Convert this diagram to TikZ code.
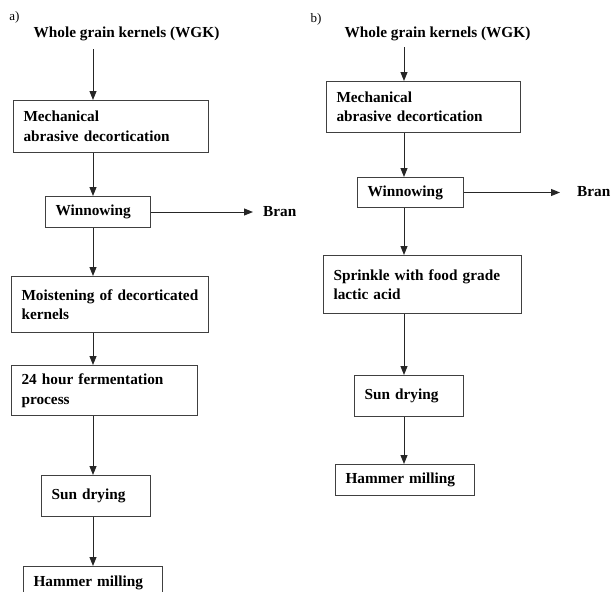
\documentclass[tikz,border=0pt]{standalone}
\usepackage{fontspec}
\setmainfont{Liberation Serif}
\usetikzlibrary{arrows.meta}

\tikzset{
  stepbox/.style={draw=black!75, line width=1pt, align=left, inner xsep=10pt, inner ysep=0pt,
    anchor=north west, font=\bfseries\fontsize{15.3}{19.5}\selectfont},
  headtext/.style={inner sep=0pt, font=\bfseries\fontsize{15.3}{19.5}\selectfont},
  panellabel/.style={inner sep=0pt, font=\fontsize{13}{14}\selectfont},
}

\begin{document}
\begin{tikzpicture}[x=1pt,y=-1pt,>={Triangle[length=9pt,width=7pt]}]
    \useasboundingbox (0,0) rectangle (611,592);

    % a)
    \node[panellabel] (labA) at (14.5,17) {a)};
    \node[headtext] (wgkA) at (126.5,34) {Whole grain kernels (WGK)};
    \node[stepbox, text width=175pt, minimum height=52pt] (mechA) at (13,100) {Mechanical\\abrasive decortication};
    \node[stepbox, text width=85pt, minimum height=31pt] (winA) at (45,196) {Winnowing};
    \node[headtext, anchor=west] (branA) at (263,211.5) {Bran};
    \node[stepbox, text width=177pt, minimum height=56pt] (moistA) at (11,276) {Moistening of decorticated\\kernels};
    \node[stepbox, text width=166pt, minimum height=50pt] (fermA) at (11,365) {24 hour fermentation\\process};
    \node[stepbox, text width=89pt, minimum height=41pt] (sunA) at (41,475) {Sun drying};
    \node[stepbox, text width=119pt, minimum height=32pt] (hamA) at (23,566) {Hammer milling};
    \coordinate (colA) at (93,0);

    \draw [->,black!85,line width=1pt,shorten <=8pt] (wgkA.south -| colA) -- (mechA.north -| colA);
    \draw [->,black!85,line width=1pt] (mechA.south -| colA) -- (winA.north -| colA);
    \draw [->,black!85,line width=1pt,shorten >=10pt] (winA.east) -- (winA.east -| branA.west);
    \draw [->,black!85,line width=1pt] (winA.south -| colA) -- (moistA.north -| colA);
    \draw [->,black!85,line width=1pt] (moistA.south -| colA) -- (fermA.north -| colA);
    \draw [->,black!85,line width=1pt] (fermA.south -| colA) -- (sunA.north -| colA);
    \draw [->,black!85,line width=1pt] (sunA.south -| colA) -- (hamA.north -| colA);

    % b)
    \node[panellabel] (labB) at (316,19) {b)};
    \node[headtext] (wgkB) at (437.5,34) {Whole grain kernels (WGK)};
    \node[stepbox, text width=174pt, minimum height=51pt] (mechB) at (326,81) {Mechanical\\abrasive decortication};
    \node[stepbox, text width=86pt, minimum height=30pt] (winB) at (357,177) {Winnowing};
    \node[headtext, anchor=west] (branB) at (577,192) {Bran};
    \node[stepbox, text width=178pt, minimum height=58pt] (sprB) at (323,255) {Sprinkle with food grade\\lactic acid};
    \node[stepbox, text width=89pt, minimum height=41pt] (sunB) at (354,375) {Sun drying};
    \node[stepbox, text width=119pt, minimum height=31pt] (hamB) at (335,464) {Hammer milling};
    \coordinate (colB) at (404,0);

    \draw [->,black!85,line width=1pt,shorten <=6pt] (wgkB.south -| colB) -- (mechB.north -| colB);
    \draw [->,black!85,line width=1pt] (mechB.south -| colB) -- (winB.north -| colB);
    \draw [->,black!85,line width=1pt,shorten >=17pt] (winB.east) -- (winB.east -| branB.west);
    \draw [->,black!85,line width=1pt] (winB.south -| colB) -- (sprB.north -| colB);
    \draw [->,black!85,line width=1pt] (sprB.south -| colB) -- (sunB.north -| colB);
    \draw [->,black!85,line width=1pt] (sunB.south -| colB) -- (hamB.north -| colB);
\end{tikzpicture}
\end{document}
